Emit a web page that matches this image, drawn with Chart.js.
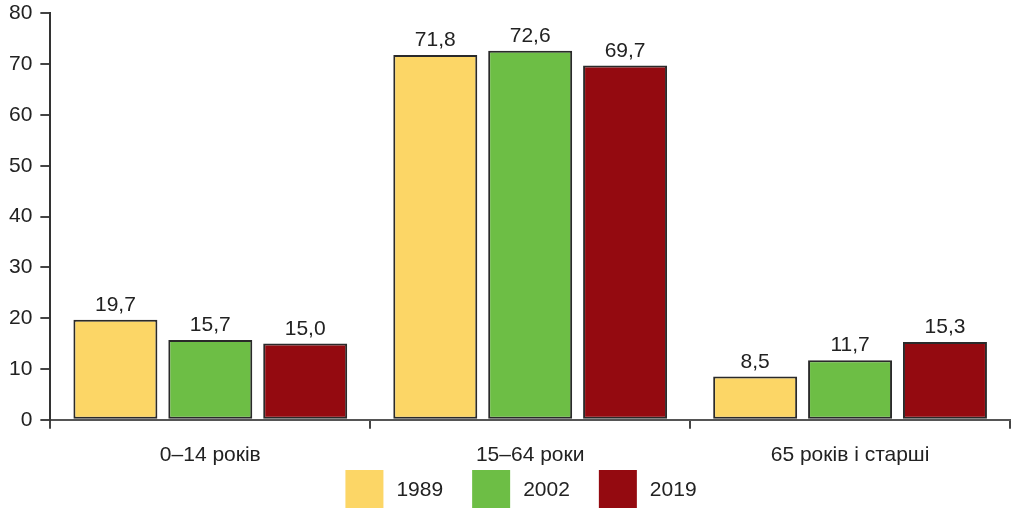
<!DOCTYPE html>
<html>
<head>
<meta charset="utf-8">
<script src="https://cdn.jsdelivr.net/npm/chart.js@4"></script>
<style>
  html, body { margin: 0; padding: 0; background: #fff; }
  #wrap { width: 1014px; height: 511px; position: relative; }
</style>
</head>
<body>
<div id="wrap"><canvas id="myChart"></canvas></div>
<script>
// age groups and shares (%) by census year
let categories = ['0–14 років', '15–64 роки', '65 років і старші'];
let years = ['1989', '2002', '2019'];
let values1989 = [19.7, 71.8, 8.5];
let values2002 = [15.7, 72.6, 11.7];
let values2019 = [15.0, 69.7, 15.3];
let colors = ['#FCD666', '#6DBE45', '#940A10'];

let fontFamily = '"Liberation Sans", Arial, sans-serif';
let fontSize = 21;

// draw the value above each bar, with decimal comma
const valueLabels = {
    id: 'valueLabels',
    afterDatasetsDraw(chart) {
        let ctx = chart.ctx;
        ctx.save();
        ctx.font = fontSize + 'px ' + fontFamily;
        ctx.fillStyle = '#222';
        ctx.textAlign = 'center';
        ctx.textBaseline = 'alphabetic';
        chart.data.datasets.forEach((ds, i) => {
            chart.getDatasetMeta(i).data.forEach((bar, j) => {
                let txt = ds.data[j].toFixed(1).replace('.', ',');
                ctx.fillText(txt, bar.x, bar.y - 9);
            });
        });
        ctx.restore();
    }
};

// legend under the x labels: big square swatches, no border
const bottomLegend = {
    id: 'bottomLegend',
    afterDraw(chart) {
        let ctx = chart.ctx;
        let box = 38, gapText = 13, gapItem = 29;
        ctx.save();
        ctx.font = fontSize + 'px ' + fontFamily;
        let widths = chart.data.datasets.map(ds => box + gapText + ctx.measureText(ds.label).width);
        let total = widths.reduce((a, b) => a + b, 0) + gapItem * (widths.length - 1);
        let x = 521 - total / 2;
        let top = 470;
        chart.data.datasets.forEach((ds, i) => {
            ctx.fillStyle = ds.backgroundColor;
            ctx.fillRect(x, top, box, box);
            ctx.fillStyle = '#222';
            ctx.textAlign = 'left';
            ctx.textBaseline = 'middle';
            ctx.fillText(ds.label, x + box + gapText, top + box / 2 + 1);
            x += widths[i] + gapItem;
        });
        ctx.restore();
    }
};

let datasets = years.map((y, i) => ({
    label: y,
    data: [values1989, values2002, values2019][i],
    backgroundColor: colors[i],
    borderColor: '#2a2a2a',
    borderWidth: 2,
    borderSkipped: false,
    categoryPercentage: 0.89,
    barPercentage: 0.885
}));

let ctx = document.getElementById('myChart').getContext('2d');
let myChart = new Chart(ctx, {
    type: 'bar',
    data: {
        labels: categories,
        datasets: datasets
    },
    plugins: [valueLabels, bottomLegend],
    options: {
        responsive: true,
        maintainAspectRatio: false,
        animation: false,
        layout: {
            padding: { left: 1, right: 4, top: 0, bottom: 29 }
        },
        scales: {
            x: {
                offset: true,
                grid: {
                    offset: true,
                    drawOnChartArea: false,
                    drawTicks: true,
                    tickLength: 9,
                    color: '#444',
                    lineWidth: 2
                },
                border: { color: '#555', width: 2 },
                ticks: {
                    color: '#222',
                    padding: 14,
                    font: { size: fontSize, family: fontFamily }
                }
            },
            y: {
                min: 0,
                max: 80,
                ticks: {
                    stepSize: 10,
                    color: '#222',
                    padding: 8,
                    font: { size: fontSize, family: fontFamily, lineHeight: 0.5 }
                },
                grid: {
                    drawOnChartArea: false,
                    drawTicks: true,
                    tickLength: 10,
                    color: '#444',
                    lineWidth: 2
                },
                border: { color: '#333', width: 2 }
            }
        },
        plugins: {
            tooltip: { enabled: false },
            legend: { display: false }
        }
    }
});
</script>
</body>
</html>
